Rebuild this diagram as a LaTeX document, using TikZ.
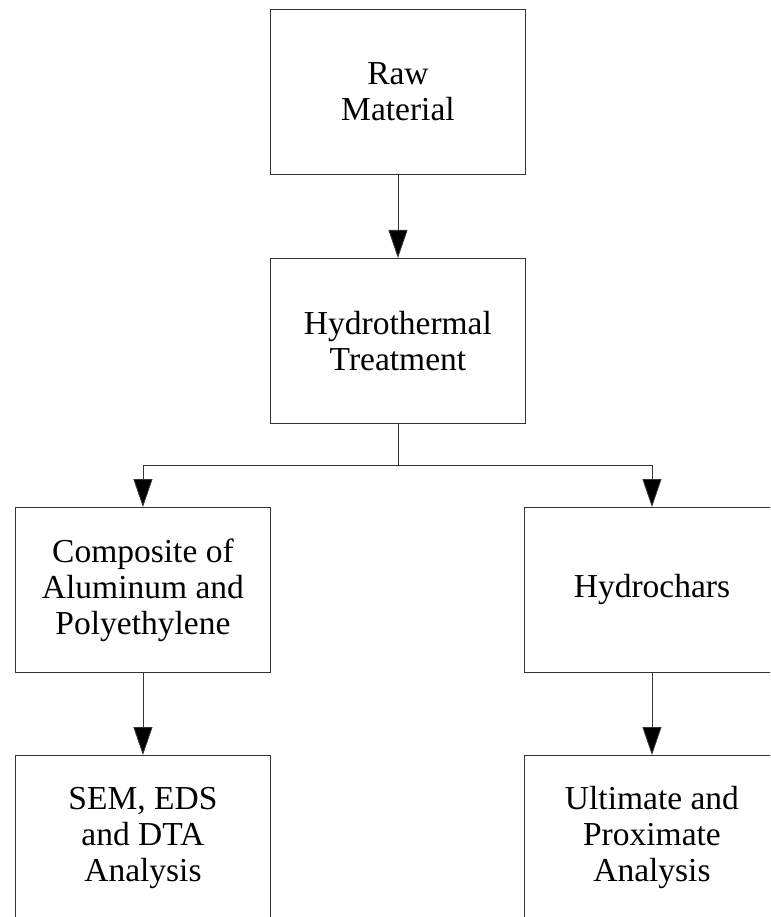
\documentclass[tikz,border=0pt]{standalone}
\usepackage{fontspec}
\setmainfont{Liberation Serif}
\usetikzlibrary{arrows.meta}
\begin{document}
\begin{tikzpicture}[x=1pt,y=-1pt,
  stage/.style={draw=black!80, line width=0.9pt, minimum width=255pt,
    minimum height=165pt, inner sep=0pt, align=center, anchor=north west,
    font=\fontsize{33.5}{36}\selectfont},
  link/.style={draw=black!80, line width=0.9pt},
  flow/.style={link, -{Triangle[length=28pt,width=19pt,fill=black]}}]
% page frame and clipping of the boxes running off the edges
\fill[white] (0,0) rectangle (770,917);
\clip (0,0) rectangle (770,917);

% process stages
\node[stage] (raw)   at (270,9)   {Raw\\Material};
\node[stage] (hydro) at (270,258) {Hydrothermal\\Treatment};
\node[stage] (comp)  at (15,507)  {Composite of\\Aluminum and\\Polyethylene};
\node[stage] (char)  at (524,507) {Hydrochars};
\node[stage] (sem)   at (15,755)  {SEM, EDS\\and DTA\\Analysis};
\node[stage] (ult)   at (524,755) {Ultimate and\\Proximate\\Analysis};

% connectors
\draw[flow] (raw) -- (hydro);
\draw[link] (hydro.south) -- ++(0,42) coordinate (fork);
\draw[flow] (fork) -| (comp.north);
\draw[flow] (fork) -| (char.north);
\draw[flow] (comp) -- (sem);
\draw[flow] (char) -- (ult);
\end{tikzpicture}
\end{document}
